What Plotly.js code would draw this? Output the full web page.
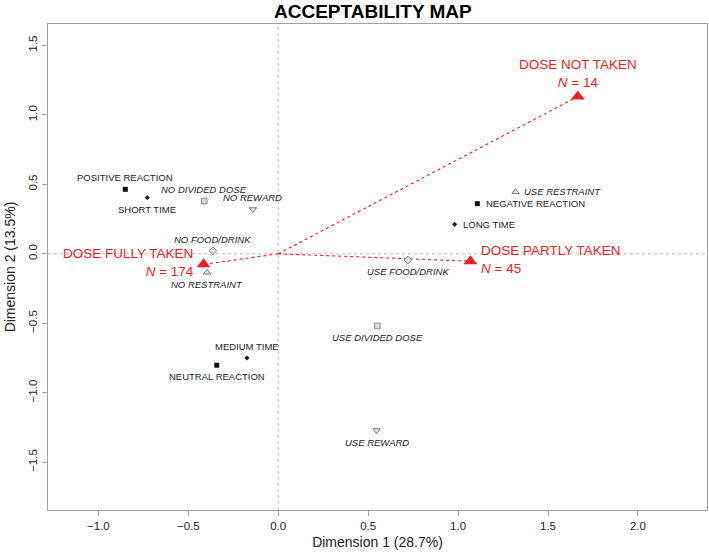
<!DOCTYPE html>
<html>
<head>
<meta charset="utf-8">
<script src="https://cdn.plot.ly/plotly-3.0.1.min.js"></script>
<style>html,body{margin:0;padding:0;background:#fff;}#chart{width:709px;height:558px;}</style>
</head>
<body>
<div id="chart"></div>
<script>
// ---- data ----
const categories = ['POSITIVE REACTION','NEGATIVE REACTION','NEUTRAL REACTION',
  'SHORT TIME','LONG TIME','MEDIUM TIME',
  'NO DIVIDED DOSE','USE DIVIDED DOSE','NO REWARD','USE REWARD',
  'NO FOOD/DRINK','USE FOOD/DRINK','NO RESTRAINT','USE RESTRAINT'];
const dim1 = [-0.850, 1.107, -0.342, -0.728, 0.981, -0.174, -0.411, 0.551, -0.141, 0.547, -0.363, 0.721, -0.396, 1.320];
const dim2 = [0.464, 0.361, -0.802, 0.404, 0.212, -0.750, 0.380, -0.519, 0.320, -1.271, 0.022, -0.045, -0.134, 0.445];
const groups = ['reaction','reaction','reaction','time','time','time',
  'divided','divided','reward','reward','food','food','restraint','restraint'];
const labelPos = ['top','right','bottom','bottom','right','top','top','bottom','top','bottom','top','bottom','bottom','right'];

const doseLabels = ['DOSE FULLY TAKEN','DOSE PARTLY TAKEN','DOSE NOT TAKEN'];
const doseN = [174, 45, 14];
const doseDim1 = [-0.415, 1.069, 1.666];
const doseDim2 = [-0.076, -0.053, 1.132];
const dosePos = ['left','right','top'];

const xTicks = [-1.0, -0.5, 0.0, 0.5, 1.0, 1.5, 2.0];
const yTicks = [-1.5, -1.0, -0.5, 0.0, 0.5, 1.0, 1.5];

// ---- styles ----
const groupStyle = {
  reaction:  {symbol:'square', size:5, color:'#111', line:{width:0}},
  time:      {symbol:'diamond', size:4, color:'#222', line:{width:0}},
  divided:   {symbol:'square', size:5.5, color:'#e0e0e0', line:{color:'#8a8a8a', width:1}},
  reward:    {symbol:'triangle-down', size:6.5, color:'#e4e4e4', line:{color:'#7a7a7a', width:1}},
  food:      {symbol:'diamond', size:6, color:'#e4e4e4', line:{color:'#7a7a7a', width:1}},
  restraint: {symbol:'triangle-up', size:6.5, color:'#e4e4e4', line:{color:'#7a7a7a', width:1}}
};
const italicGroups = {divided:1, reward:1, food:1, restraint:1};
const RED = '#ee1c25';
const sans = '"Liberation Sans", Arial, Helvetica, sans-serif';

const traces = [];
// red dotted lines from origin to dose points
for (let i = 0; i < doseLabels.length; i++) {
  traces.push({x:[0, doseDim1[i]], y:[0, doseDim2[i]], mode:'lines', type:'scatter',
    line:{color:RED, width:1.1, dash:'dot'}, hoverinfo:'skip', showlegend:false});
}
// category points by group
Object.keys(groupStyle).forEach(g => {
  const xs = [], ys = [], tx = [];
  categories.forEach((c, i) => { if (groups[i] === g) { xs.push(dim1[i]); ys.push(dim2[i]); tx.push(c); } });
  traces.push({x:xs, y:ys, text:tx, mode:'markers', type:'scatter', marker:groupStyle[g],
    hoverinfo:'text', showlegend:false});
});
// dose points
traces.push({x:doseDim1, y:doseDim2, text:doseLabels, mode:'markers', type:'scatter',
  marker:{symbol:'triangle-up', size:12, color:RED, line:{width:0}}, hoverinfo:'text', showlegend:false});

const annotations = [];
categories.forEach((c, i) => {
  const p = labelPos[i];
  const a = {x:dim1[i], y:dim2[i], xref:'x', yref:'y', showarrow:false,
    text: italicGroups[groups[i]] ? '<i>' + c + '</i>' : c,
    font:{family:sans, size:9.5, color:'#222'}, borderpad:0, borderwidth:0};
  if (p === 'top') { a.xanchor='center'; a.yanchor='middle'; a.yshift=11.7; }
  else if (p === 'bottom') { a.xanchor='center'; a.yanchor='middle'; a.yshift=-11.7; }
  else if (p === 'right') { a.xanchor='left'; a.yanchor='middle'; a.xshift=8.5; }
  else { a.xanchor='right'; a.yanchor='middle'; a.xshift=-8.5; }
  annotations.push(a);
});
doseLabels.forEach((d, i) => {
  const p = dosePos[i];
  const a = {x:doseDim1[i], y:doseDim2[i], xref:'x', yref:'y', showarrow:false,
    text: d + '<br><i>N</i> = ' + doseN[i],
    font:{family:sans, size:13.5, color:RED}, borderpad:0, borderwidth:0};
  if (p === 'top') { a.xanchor='center'; a.yanchor='middle'; a.align='center'; a.yshift=23; }
  else if (p === 'right') { a.xanchor='left'; a.yanchor='middle'; a.align='left'; a.xshift=10.5; a.yshift=2; }
  else { a.xanchor='right'; a.yanchor='middle'; a.align='right'; a.xshift=-10; a.yshift=2; }
  annotations.push(a);
});

const layout = {
  width:709, height:558,
  margin:{l:48, r:1.5, t:24, b:48, pad:0},
  paper_bgcolor:'#fff', plot_bgcolor:'#fff',
  title:{text:'<b>ACCEPTABILITY MAP</b>', font:{family:sans, size:19, color:'#000'},
    x:0.493, xanchor:'center', xref:'paper', y:1 - 11/558, yref:'container', yanchor:'middle'},
  xaxis:{range:[-1.28, 2.384], tickvals:xTicks, ticktext:xTicks.map(v => v.toFixed(1).replace('-', '\u2212')),
    showgrid:false, zeroline:false, showline:true, mirror:true, linecolor:'#a0a0a0', linewidth:1.3,
    ticks:'outside', ticklen:5, tickcolor:'#a0a0a0', tickwidth:1,
    tickfont:{family:sans, size:11.5, color:'#222'},
    title:{text:'Dimension 1 (28.7%)', font:{family:sans, size:14, color:'#222'}, standoff:6}},
  yaxis:{range:[-1.844, 1.654], tickvals:yTicks, ticktext:yTicks.map(v => v.toFixed(1).replace('-', '\u2212')),
    tickangle:-90,
    showgrid:false, zeroline:false, showline:true, mirror:true, linecolor:'#a0a0a0', linewidth:1.3,
    ticks:'outside', ticklen:5, tickcolor:'#a0a0a0', tickwidth:1,
    tickfont:{family:sans, size:11.5, color:'#222'},
    title:{text:'Dimension 2 (13.5%)', font:{family:sans, size:14, color:'#222'}, standoff:8}},
  shapes:[
    {type:'line', xref:'x', yref:'paper', x0:0, x1:0, y0:0, y1:1, line:{color:'#aaa', width:0.8, dash:'dot'}, layer:'below'},
    {type:'line', xref:'paper', yref:'y', x0:0, x1:1, y0:0, y1:0, line:{color:'#aaa', width:0.8, dash:'dot'}, layer:'below'}
  ],
  annotations:annotations,
  showlegend:false
};

Plotly.newPlot('chart', traces, layout, {displayModeBar:false, staticPlot:true});
</script>
</body>
</html>
